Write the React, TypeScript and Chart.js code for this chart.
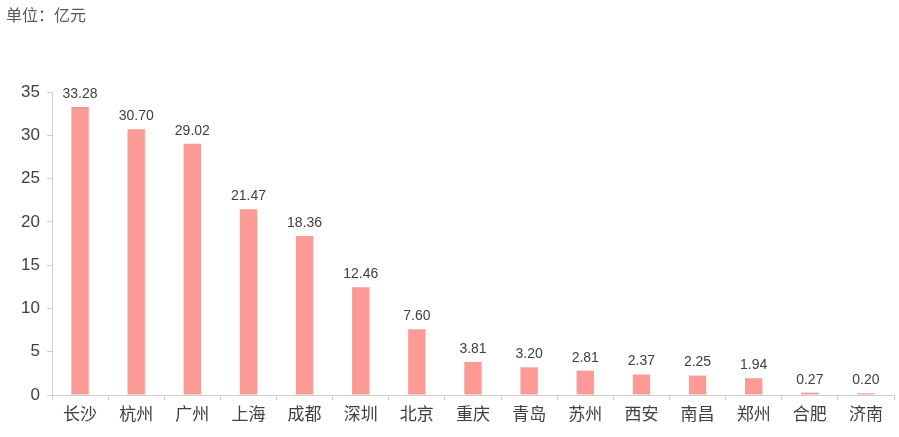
import React, { useEffect, useRef } from "react";
import { Chart, registerables } from "chart.js";

Chart.register(...registerables);

const categories = ["长沙", "杭州", "广州", "上海", "成都", "深圳", "北京", "重庆", "青岛", "苏州", "西安", "南昌", "郑州", "合肥", "济南"];
const values = [33.28, 30.7, 29.02, 21.47, 18.36, 12.46, 7.6, 3.81, 3.2, 2.81, 2.37, 2.25, 1.94, 0.27, 0.2];
const unitLabel = "单位：亿元";
const yTicks = [0, 5, 10, 15, 20, 25, 30, 35];

const FONT = "'Liberation Sans', 'Noto Sans CJK SC', sans-serif";

const labelPlugin = {
  id: "valueLabels",
  afterDatasetsDraw(chart: any) {
    const ctx = chart.ctx;
    const meta = chart.getDatasetMeta(0);
    ctx.save();
    ctx.font = `14px ${FONT}`;
    ctx.fillStyle = "#404040";
    ctx.textAlign = "center";
    ctx.textBaseline = "bottom";
    meta.data.forEach((bar: any, i: number) => {
      ctx.fillText(values[i].toFixed(2), bar.x, bar.y - 6);
    });
    ctx.font = `16px ${FONT}`;
    ctx.fillStyle = "#595959";
    ctx.textAlign = "left";
    ctx.textBaseline = "middle";
    ctx.fillText(unitLabel, 6, 17);
    ctx.restore();
  },
};

export default function App() {
  const ref = useRef<HTMLCanvasElement>(null);
  useEffect(() => {
    if (!ref.current) return;
    const chart = new Chart(ref.current, {
      type: "bar",
      data: {
        labels: categories,
        datasets: [
          {
            data: values,
            backgroundColor: "#FC9B96",
            barPercentage: 0.31,
            categoryPercentage: 1,
          },
        ],
      },
      options: {
        animation: false,
        responsive: true,
        maintainAspectRatio: false,
        layout: { padding: { top: 92, right: 5, left: 0, bottom: 0 } },
        plugins: {
          legend: { display: false },
          tooltip: { enabled: false },
          title: { display: false },
        },
        scales: {
          x: {
            grid: { display: true, drawOnChartArea: false, drawTicks: true, tickLength: 5, color: "#d0d0d0", offset: true },
            border: { display: true, color: "#d0d0d0" },
            ticks: { color: "#404040", font: { size: 17, family: FONT }, padding: 5, maxRotation: 0, autoSkip: false },
            afterFit: (s: any) => { s.height = 42; },
          },
          y: {
            min: 0,
            max: 35,
            afterBuildTicks: (s: any) => { s.ticks = yTicks.map((v) => ({ value: v })); },
            grid: { display: true, drawOnChartArea: false, drawTicks: true, tickLength: 5, color: "#d0d0d0" },
            border: { display: true, color: "#d0d0d0" },
            ticks: { color: "#404040", font: { size: 17, family: FONT }, padding: 7 },
            afterFit: (s: any) => { s.width = 52; },
          },
        },
      },
      plugins: [labelPlugin],
    });
    return () => chart.destroy();
  }, []);
  return (
    <div style={{ position: "fixed", left: 0, top: 0, width: 899, height: 437, background: "#fff" }}>
      <canvas ref={ref} />
    </div>
  );
}
